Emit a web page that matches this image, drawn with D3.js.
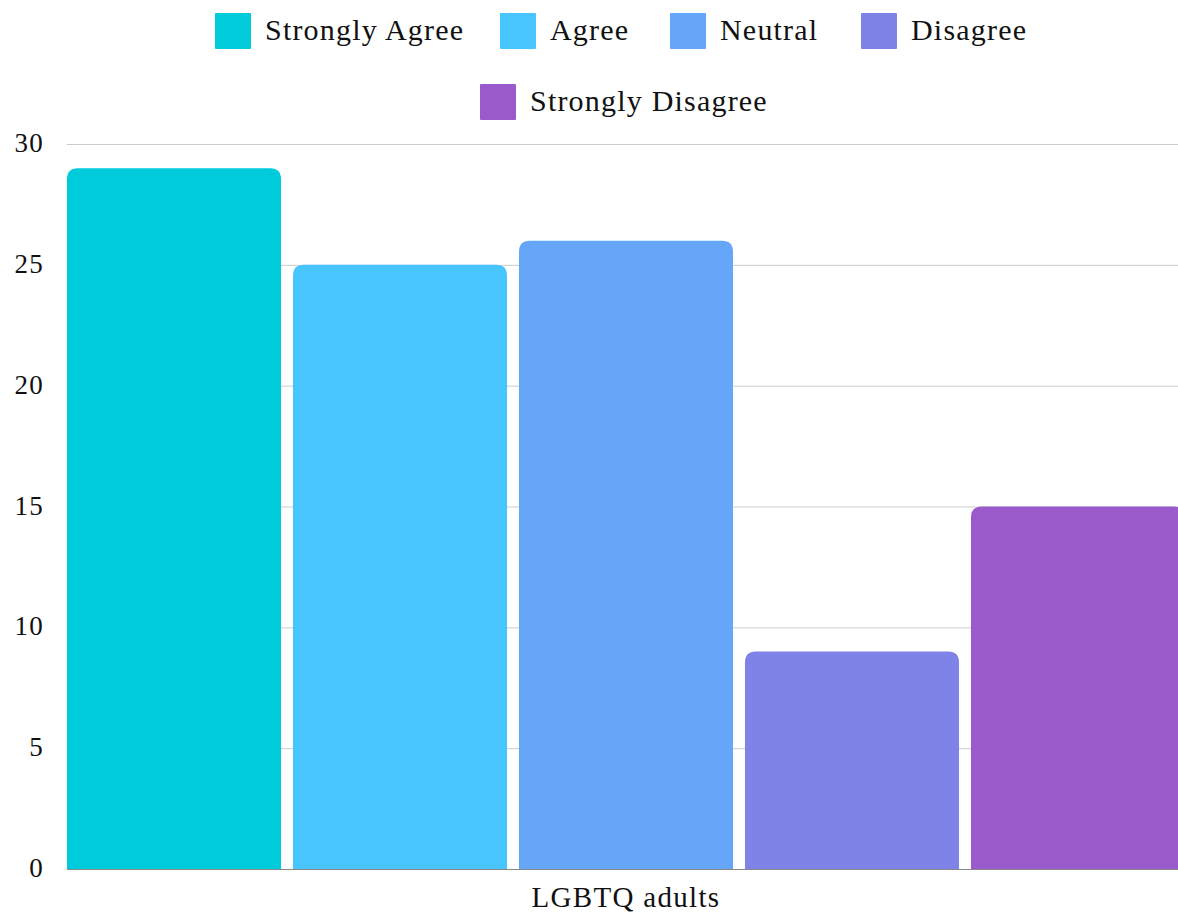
<!DOCTYPE html>
<html><head><meta charset="utf-8">
<script src="https://cdn.jsdelivr.net/npm/d3@7"></script>
<style>body{margin:0;background:#fff}svg{display:block}</style>
</head><body>
<svg id="c" width="1178" height="914"></svg>
<script>
const categories = ["LGBTQ adults"];
const seriesNames = ["Strongly Agree", "Agree", "Neutral", "Disagree", "Strongly Disagree"];
const seriesValues = [29, 25, 26, 9, 15];
const seriesColors = ["#00CBDB", "#48C4FE", "#66A6F9", "#7F82E6", "#9A5ACC"];
const yTicks = [0, 5, 10, 15, 20, 25, 30];

(function () {
const font = "'Liberation Serif', serif";
const svg = d3.select("#c");
const mLeft = 67, mRight = 1185, mTop = 144, mBottom = 869;
const y = d3.scaleLinear().domain([0, 30]).range([mBottom, mTop]);
const x0 = d3.scaleBand().domain(categories).range([mLeft, mRight]).padding(0);
const x1 = d3.scaleBand().domain(seriesNames).range([0, x0.bandwidth()]).paddingInner(0.053).paddingOuter(0);

svg.append("g").selectAll("line").data(yTicks.filter(d => d > 0)).join("line")
  .attr("x1", mLeft).attr("x2", 1178).attr("y1", d => y(d) + 0.5).attr("y2", d => y(d) + 0.5)
  .attr("stroke", "#cccccc").attr("stroke-width", 1);
svg.append("g").selectAll("text").data(yTicks).join("text")
  .attr("x", 44).attr("y", d => y(d) + 8).attr("text-anchor", "end")
  .attr("font-family", font).attr("font-size", 27).attr("letter-spacing", 1.2)
  .attr("fill", "#111").text(d => d);

function topRounded(x, yTop, w, h, r) {
  r = Math.min(r, h, w / 2);
  return `M${x},${yTop + h}V${yTop + r}Q${x},${yTop} ${x + r},${yTop}H${x + w - r}Q${x + w},${yTop} ${x + w},${yTop + r}V${yTop + h}Z`;
}
const g = svg.append("g");
categories.forEach(cat => {
  g.selectAll("path").data(seriesNames).join("path")
    .attr("d", (s, i) => topRounded(x0(cat) + x1(s), y(seriesValues[i]), x1.bandwidth(), mBottom - y(seriesValues[i]), 11))
    .attr("fill", (s, i) => seriesColors[i]);
});
svg.append("line").attr("x1", mLeft).attr("x2", 1178).attr("y1", mBottom + 0.5).attr("y2", mBottom + 0.5)
  .attr("stroke", "#888").attr("stroke-width", 1);

svg.append("g").selectAll("text").data(categories).join("text")
  .attr("x", d => x0(d) + x0.bandwidth() / 2).attr("y", 907).attr("text-anchor", "middle")
  .attr("font-family", font).attr("font-size", 29).attr("letter-spacing", 1.3)
  .attr("fill", "#111").text(d => d);

const legendPos = [[215, 13], [500, 13], [670, 13], [861, 13], [480, 84]];
const lg = svg.append("g").selectAll("g").data(seriesNames).join("g")
  .attr("transform", (d, i) => `translate(${legendPos[i][0]},${legendPos[i][1]})`);
lg.append("rect").attr("width", 36).attr("height", 36).attr("rx", 1).attr("fill", (d, i) => seriesColors[i]);
lg.append("text").attr("x", 50).attr("y", 27).attr("font-family", font).attr("font-size", 30)
  .attr("letter-spacing", 1.2).attr("fill", "#111").text(d => d);
})();
</script>
</body></html>
